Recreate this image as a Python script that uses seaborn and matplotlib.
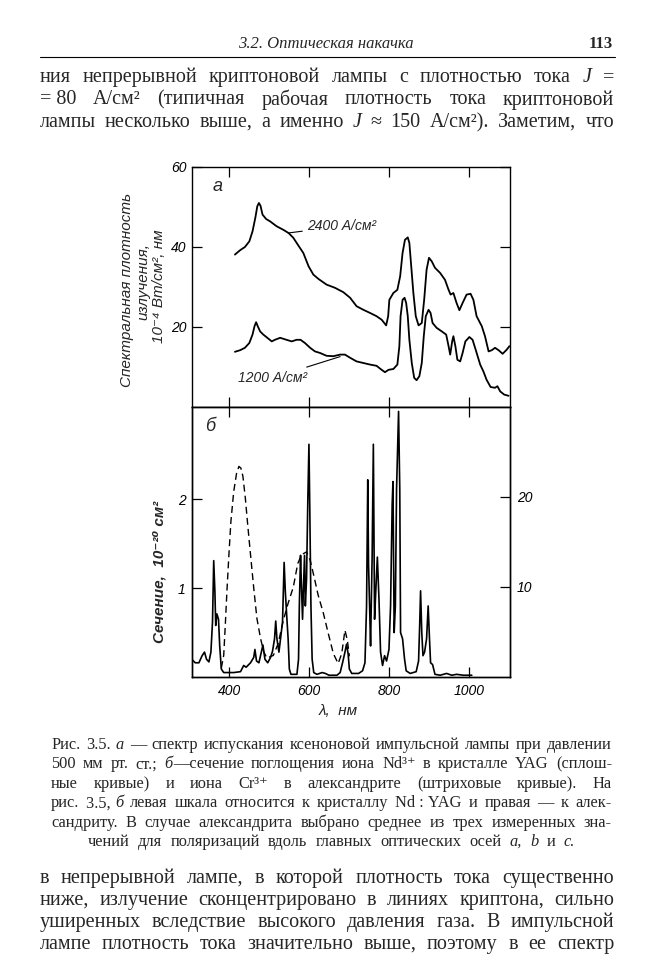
import matplotlib
matplotlib.use("Agg")
import matplotlib.pyplot as plt
import seaborn as sns

# Page text (Russian book page, p. 113)
HEADER_TITLE = "3.2. Оптическая накачка"
HEADER_PAGE = "113"
TOP_LINES = [
    "ния непрерывной криптоновой лампы с плотностью тока _J_ =",
    "=\u00a080 А/см² (типичная рабочая плотность тока криптоновой",
    "лампы несколько выше, а именно _J_ ≈ 150 А/см²). Заметим, что",
]
CAPTION_LINES = [
    "Рис. 3.5. _а_ — спектр испускания ксеноновой импульсной лампы при давлении",
    "500 мм рт. ст.; _б_—сечение поглощения иона Nd³⁺ в кристалле YAG (сплош-",
    "ные кривые) и иона Cr³⁺ в александрите (штриховые кривые). На",
    "рис. 3.5,\u00a0_б_ левая шкала относится к кристаллу Nd\u00a0:\u00a0YAG и правая — к алек-",
    "сандриту. В случае александрита выбрано среднее из трех измеренных зна-",
    "чений для поляризаций вдоль главных оптических осей _a,_ _b_ и _c._",
]
BOTTOM_LINES = [
    "в непрерывной лампе, в которой плотность тока существенно",
    "ниже, излучение сконцентрировано в линиях криптона, сильно",
    "уширенных вследствие высокого давления газа. В импульсной",
    "лампе плотность тока значительно выше, поэтому в ее спектр",
]

# Panel а: xenon flash lamp emission, 10^-4 W/(cm^2 nm)
wl_2400 = [414, 427, 439, 450, 458, 465, 470, 474, 478, 483, 492, 502, 518, 535,
           548, 560, 573, 585, 598, 610, 623, 643, 664, 685, 702, 718, 735, 752,
           768, 781, 792, 797, 800, 810, 820, 827, 833, 839, 846, 850, 854, 860,
           866, 873, 881, 887, 893, 899, 906, 914, 927, 939, 948, 953, 960, 968,
           975, 983, 993, 1003, 1010, 1018, 1031, 1039, 1048, 1056, 1064, 1073,
           1083, 1093, 1100]
em_2400 = [38.1, 39.2, 40.0, 41.4, 43.9, 47.3, 50.2, 51.0, 50.3, 48.1, 47.0, 46.4,
           45.2, 44.3, 43.5, 42.3, 40.3, 38.5, 35.2, 33.1, 32.0, 30.6, 29.8, 28.7,
           27.3, 25.2, 24.3, 23.5, 22.7, 21.8, 20.4, 22.7, 26.8, 28.5, 29.3, 32.7,
           38.5, 41.8, 42.4, 41.0, 36.0, 28.5, 22.7, 20.4, 21.0, 26.8, 34.3, 37.3,
           36.4, 34.8, 33.5, 31.8, 29.3, 28.1, 28.5, 26.0, 24.2, 26.0, 28.1, 28.3,
           26.8, 22.7, 20.2, 17.7, 13.9, 14.2, 14.8, 14.2, 13.3, 14.3, 15.2]
wl_1200 = [414, 427, 439, 450, 458, 463, 467, 471, 477, 485, 495, 506, 514, 527,
           543, 556, 568, 578, 589, 602, 614, 627, 643, 660, 677, 689, 702, 718,
           735, 752, 768, 778, 789, 798, 810, 820, 825, 828, 833, 838, 842, 846,
           850, 856, 862, 868, 875, 881, 886, 891, 898, 903, 908, 918, 931, 942,
           948, 952, 957, 960, 965, 970, 977, 983, 990, 1000, 1008, 1017, 1027,
           1035, 1043, 1053, 1064, 1070, 1077, 1087, 1098]
em_1200 = [13.8, 14.2, 14.8, 16.0, 18.1, 20.2, 21.2, 20.2, 18.9, 18.1, 17.3, 16.4,
           16.8, 17.3, 16.8, 16.4, 16.8, 16.8, 16.0, 14.8, 13.9, 13.5, 12.8, 12.7,
           13.1, 13.1, 12.3, 11.4, 11.0, 10.6, 10.3, 9.5, 8.7, 9.3, 9.5, 10.6, 15.2,
           22.7, 26.8, 27.3, 26.0, 22.7, 16.8, 11.0, 7.3, 6.7, 7.7, 11.0, 17.7, 22.7,
           24.3, 23.5, 21.0, 19.8, 18.9, 18.1, 15.2, 13.1, 16.4, 17.7, 15.2, 11.8,
           11.4, 13.5, 16.4, 17.5, 16.8, 13.9, 10.6, 8.9, 6.8, 5.0, 4.8, 5.2, 3.9,
           3.1, 2.8]

# Panel б: Nd:YAG absorption cross-section (left scale, 10^-20 cm^2)
wl_nd = [308, 315, 324, 332, 338, 343, 349, 354, 358, 361, 364, 366, 369, 373, 376,
         380, 386, 411, 428, 436, 442, 453, 461, 464, 468, 474, 479, 484, 489, 496,
         503, 508, 513, 516, 519, 524, 528, 533, 537, 540, 544, 547, 550, 554, 569,
         573, 575, 578, 580, 583, 585, 588, 590, 593, 596, 599, 601, 604, 607, 611,
         619, 632, 640, 649, 669, 677, 683, 689, 693, 697, 700, 706, 723, 733, 739,
         743, 746, 748, 751, 753, 757, 760, 763, 766, 770, 774, 778, 783, 788, 793,
         799, 803, 807, 809, 812, 815, 818, 823, 826, 828, 833, 838, 842, 852, 867,
         873, 876, 878, 881, 884, 888, 893, 897, 900, 903, 908, 914, 927, 943, 956,
         968, 985, 1006]
sigma_nd = [0.19, 0.16, 0.16, 0.24, 0.28, 0.20, 0.17, 0.28, 0.62, 1.31, 0.96, 0.58,
            0.71, 0.65, 0.35, 0.09, 0.05, 0.05, 0.06, 0.13, 0.11, 0.16, 0.22, 0.31,
            0.18, 0.16, 0.26, 0.36, 0.20, 0.16, 0.22, 0.29, 0.43, 0.63, 0.43, 0.28,
            0.43, 0.62, 1.29, 0.96, 0.65, 0.43, 0.09, 0.03, 0.03, 0.20, 0.80, 1.37,
            1.07, 0.65, 0.96, 1.37, 0.80, 1.10, 1.94, 2.62, 1.94, 0.80, 0.20, 0.05,
            0.03, 0.05, 0.04, 0.02, 0.02, 0.05, 0.16, 0.28, 0.37, 0.26, 0.09, 0.04,
            0.04, 0.07, 0.16, 0.80, 2.22, 1.26, 0.73, 0.35, 1.37, 2.62, 0.65, 0.96,
            1.35, 0.88, 0.28, 0.13, 0.24, 0.18, 0.31, 0.80, 1.94, 2.20, 0.50, 0.80,
            2.12, 2.99, 2.12, 0.50, 0.43, 0.20, 0.07, 0.04, 0.06, 0.18, 0.62, 0.97,
            0.50, 0.24, 0.28, 0.43, 0.80, 0.46, 0.16, 0.14, 0.03, 0.02, 0.04, 0.02,
            0.03, 0.02, 0.02]
# Alexandrite (Cr3+) cross-section, right scale
wl_cr = [380, 386, 390, 394, 399, 404, 411, 418, 424, 429, 434, 440, 446, 453, 461,
         469, 478, 486, 494, 510, 522, 535, 547, 560, 571, 581, 593, 602, 612, 622,
         635, 647, 660, 672, 681, 689, 695, 700]
sigma_cr = [1.0, 2.4, 5.8, 9.5, 13.6, 17.3, 20.6, 22.6, 23.4, 23.2, 22.3, 19.9, 16.9,
            13.6, 9.9, 6.5, 4.3, 2.8, 2.1, 2.4, 3.7, 6.3, 8.2, 10.0, 12.6, 13.6, 13.9,
            13.0, 11.1, 9.1, 7.1, 4.9, 2.6, 1.5, 2.6, 5.2, 4.1, 2.3]

x_ticks = [400, 600, 800, 1000]
a_yticks = [20, 40, 60]
b_yticks = [1, 2]
b_yticks_right = [10, 20]

W, H = 650, 975
SANS = ["Liberation Sans", "DejaVu Sans"]
SERIF = ["Liberation Serif", "DejaVu Serif"]


def box(x0, y0, x1, y1):
    # pixel box (top-left origin) -> figure fraction rect
    return [x0 / W, 1 - y1 / H, (x1 - x0) / W, (y1 - y0) / H]


def put_line(fig, rend, line, x0, x1, base, size, mode="justify"):
    """Draw one line of page text, justified between x0 and x1 (pixels)."""
    groups = []
    for word in line.split(" "):
        parts = []
        for i, seg in enumerate(word.split("_")):
            if seg:
                t = fig.text(0, 0, seg, fontsize=size, family=SERIF,
                             style="italic" if i % 2 else "normal", va="baseline")
                parts.append((t, t.get_window_extent(rend).width))
        groups.append(parts)
    widths = [sum(w for _, w in g) for g in groups]
    total = sum(widths)
    em = size * 100 / 72
    if mode == "justify" and len(groups) > 1:
        gap = max((x1 - x0 - total) / (len(groups) - 1), 0.15 * em)
        x = x0
    else:
        gap = 0.5 * em
        x = (x0 + x1) / 2 - (total + gap * (len(groups) - 1)) / 2
    for g, gw in zip(groups, widths):
        for t, w in g:
            t.set_position((x / W, 1 - base / H))
            x += w
        x += gap


sns.set_theme(style="ticks", rc={"axes.linewidth": 1.0, "axes.edgecolor": "black",
                                 "xtick.color": "black", "ytick.color": "black"})
plt.rcParams["font.family"] = SANS
plt.rcParams["font.style"] = "italic"

fig = plt.figure(figsize=(6.5, 9.75), dpi=100)
rend = fig.canvas.get_renderer()

# ---- panel а ----
ax_a = fig.add_axes(box(192.3, 167, 510, 407))
sns.lineplot(x=wl_2400, y=em_2400, ax=ax_a, color="black", linewidth=1.3,
             estimator=None, sort=False)
sns.lineplot(x=wl_1200, y=em_1200, ax=ax_a, color="black", linewidth=1.3,
             estimator=None, sort=False)
ax_a.set_xlim(307.5, 1101.5)
ax_a.set_ylim(0, 60)
ax_a.set_xticks(x_ticks)
ax_a.set_yticks(a_yticks)
ax_a.set_yticklabels([str(v) for v in a_yticks])
ax_a.tick_params(direction="in", length=7, width=0.9, top=True, right=True,
                 labelbottom=False, labelsize=10, pad=4)
ax_a.text(0.081, 0.917, "а", transform=ax_a.transAxes, fontsize=13,
          ha="center", va="center")
ax_a.annotate("2400 А/см²", xy=(547, 43.5), xytext=(594, 45.2), fontsize=10,
              va="center", ha="left",
              arrowprops=dict(arrowstyle="-", lw=0.8, color="black",
                              shrinkA=1, shrinkB=0))
ax_a.annotate("1200 А/см²", xy=(677, 12.6), xytext=(422, 7.3), fontsize=10,
              va="center", ha="left",
              arrowprops=dict(arrowstyle="-", lw=0.8, color="black",
                              shrinkA=1, shrinkB=0))
ax_a.set_xlabel("")
ax_a.set_ylabel("")

# ---- panel б ----
ax_b = fig.add_axes(box(192.3, 407, 510, 677))
sns.lineplot(x=wl_nd, y=sigma_nd, ax=ax_b, color="black", linewidth=1.2,
             estimator=None, sort=False)
ax_b.set_xlim(307.5, 1101.5)
ax_b.set_ylim(0, 3.04)
ax_b.set_xticks(x_ticks)
ax_b.set_xticklabels([str(v) for v in x_ticks])
ax_b.set_yticks(b_yticks)
ax_b.set_yticklabels([str(v) for v in b_yticks])
ax_b.tick_params(direction="in", length=7, width=0.9, top=True, right=False,
                 labelsize=10, pad=5)
ax_b.set_ylabel("")
ax_b.set_xlabel("λ,  нм", fontsize=11)
ax_b.xaxis.set_label_coords((338 - 192.3) / 317.7, -0.1)

ax_r = ax_b.twinx()
sns.lineplot(x=wl_cr, y=sigma_cr, ax=ax_r, color="black", linewidth=1.0,
             linestyle=(0, (5, 3)), estimator=None, sort=False)
ax_r.set_ylim(0, 30)
ax_r.set_yticks(b_yticks_right)
ax_r.set_yticklabels([str(v) for v in b_yticks_right])
ax_r.tick_params(axis="y", direction="in", length=7, width=0.9, labelsize=10, pad=5)
ax_r.set_ylabel("")
ax_b.text(0.056, 0.926, "б", transform=ax_b.transAxes, fontsize=13,
          ha="center", va="center")

# axis titles (rotated)
fig.text(127 / W, 1 - 290 / H, "Спектральная плотность", rotation=90,
         fontsize=11, ha="center", va="center")
fig.text(143 / W, 1 - 282 / H, "излучения,", rotation=90,
         fontsize=11, ha="center", va="center")
fig.text(159 / W, 1 - 286 / H, "10⁻⁴ Вт/см², нм", rotation=90,
         fontsize=11, ha="center", va="center")
fig.text(160 / W, 1 - 572 / H, "Сечение,  10⁻²⁰ см²", rotation=90,
         fontsize=11, weight="bold", ha="center", va="center")

# ---- page furniture ----
fig.text(326 / W, 1 - 48 / H, HEADER_TITLE, fontsize=12, family=SERIF,
         style="italic", ha="center", va="baseline")
fig.text(613 / W, 1 - 48 / H, HEADER_PAGE, fontsize=12, family=SERIF,
         style="normal", weight="bold", ha="right", va="baseline")
fig.add_artist(plt.Line2D([40 / W, 615 / W], [1 - 57 / H, 1 - 57 / H],
                          color="black", lw=0.8))

for i, line in enumerate(TOP_LINES):
    put_line(fig, rend, line, 40, 614, 82 + i * 22.5, 14.5)

for i, line in enumerate(CAPTION_LINES):
    mode = "center" if i == len(CAPTION_LINES) - 1 else "justify"
    put_line(fig, rend, line, 51, 612, 749 + i * 19.4, 11.8, mode)

for i, line in enumerate(BOTTOM_LINES):
    put_line(fig, rend, line, 40, 614, 883 + i * 22, 14.5)

fig.savefig("out.png", dpi=100)
